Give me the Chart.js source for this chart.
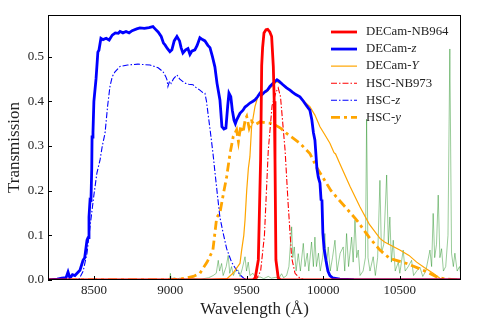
<!DOCTYPE html>
<html>
<head>
<meta charset="utf-8">
<script src="https://cdn.jsdelivr.net/npm/chart.js@4.4.1/dist/chart.umd.min.js"></script>
<style>
  body { margin: 0; background: #fff; }
  #wrap { width: 485px; height: 323px; position: relative; }
</style>
</head>
<body>
<div id="wrap"><canvas id="filters"></canvas></div>
<script>
// ---- data (wavelength in Angstrom, transmission) ----
const xTicks = [8500, 9000, 9500, 10000, 10500];
const yTicks = [0, 0.1, 0.2, 0.3, 0.4, 0.5];

const nb964Wave = [8200, 9540, 9555, 9575, 9590, 9597, 9603, 9612, 9625, 9636, 9650, 9662, 9673, 9679, 9684, 9690, 9705, 9720, 10900];
const nb964Trans = [0, 0, 0.005, 0.045, 0.27, 0.48, 0.52, 0.553, 0.56, 0.561, 0.555, 0.545, 0.478, 0.40, 0.27, 0.045, 0.005, 0, 0];

const decamZWave = [8200, 8260, 8290, 8318, 8331, 8342, 8350, 8360, 8376, 8390, 8409, 8429, 8440, 8455, 8462, 8468, 8475, 8481, 8486, 8488, 8494, 8500, 8514, 8520, 8526, 8533, 8546, 8560, 8580, 8600, 8620, 8640, 8660, 8671, 8690, 8710, 8730, 8750, 8780, 8801, 8830, 8860, 8886, 8900, 8920, 8940, 8955, 8965, 8980, 8997, 9010, 9025, 9043, 9060, 9070, 9082, 9100, 9115, 9128, 9140, 9160, 9175, 9193, 9210, 9226, 9245, 9259, 9275, 9291, 9305, 9324, 9337, 9350, 9363, 9375, 9383, 9395, 9405, 9416, 9425, 9433, 9455, 9475, 9488, 9500, 9520, 9540, 9553, 9570, 9586, 9600, 9618, 9635, 9651, 9665, 9684, 9697, 9710, 9736, 9760, 9782, 9800, 9820, 9847, 9870, 9890, 9912, 9925, 9935, 9945, 9958, 9967, 9978, 9985, 9991, 9997, 10005, 10017, 10030, 10043, 10060, 10108, 10200, 10900];
const decamZTrans = [0, 0.002, 0.004, 0.005, 0.018, 0.006, 0.007, 0.012, 0.01, 0.015, 0.022, 0.044, 0.05, 0.089, 0.095, 0.141, 0.18, 0.179, 0.25, 0.32, 0.33, 0.40, 0.45, 0.45, 0.51, 0.514, 0.541, 0.538, 0.541, 0.537, 0.548, 0.553, 0.552, 0.556, 0.553, 0.556, 0.553, 0.558, 0.562, 0.564, 0.563, 0.565, 0.567, 0.562, 0.555, 0.545, 0.53, 0.526, 0.518, 0.511, 0.515, 0.535, 0.545, 0.535, 0.52, 0.508, 0.515, 0.518, 0.505, 0.512, 0.515, 0.525, 0.542, 0.538, 0.535, 0.525, 0.52, 0.5, 0.477, 0.44, 0.403, 0.343, 0.338, 0.34, 0.39, 0.418, 0.41, 0.38, 0.358, 0.35, 0.358, 0.373, 0.38, 0.387, 0.39, 0.396, 0.40, 0.403, 0.41, 0.418, 0.415, 0.421, 0.425, 0.433, 0.438, 0.444, 0.448, 0.445, 0.437, 0.43, 0.425, 0.42, 0.415, 0.41, 0.40, 0.39, 0.38, 0.358, 0.33, 0.313, 0.25, 0.23, 0.217, 0.18, 0.179, 0.105, 0.07, 0.044, 0.02, 0.01, 0.005, 0.002, 0.001, 0];

const decamYWave = [8200, 9200, 9370, 9409, 9440, 9455, 9466, 9480, 9488, 9499, 9510, 9520, 9531, 9553, 9575, 9600, 9630, 9660, 9684, 9695, 9720, 9760, 9800, 9847, 9880, 9912, 9945, 9978, 10010, 10043, 10070, 10080, 10108, 10174, 10239, 10300, 10370, 10400, 10450, 10500, 10560, 10610, 10660, 10718, 10762, 10800, 10900];
const decamYTrans = [0, 0, 0.003, 0.015, 0.03, 0.037, 0.067, 0.1, 0.134, 0.2, 0.25, 0.276, 0.343, 0.388, 0.414, 0.418, 0.421, 0.432, 0.44, 0.444, 0.44, 0.429, 0.42, 0.41, 0.398, 0.388, 0.369, 0.343, 0.325, 0.306, 0.285, 0.282, 0.26, 0.21, 0.164, 0.125, 0.093, 0.085, 0.076, 0.067, 0.055, 0.04, 0.028, 0.015, 0.004, 0, 0];

const nb973Wave = [8200, 9560, 9590, 9615, 9640, 9665, 9690, 9705, 9720, 9735, 9750, 9770, 9793, 9815, 9847, 9880, 10900];
const nb973Trans = [0, 0, 0.02, 0.1, 0.29, 0.39, 0.42, 0.43, 0.41, 0.35, 0.29, 0.17, 0.05, 0.015, 0.004, 0, 0];

const hscZWave = [8200, 8400, 8430, 8455, 8475, 8500, 8520, 8540, 8555, 8573, 8590, 8605, 8620, 8638, 8671, 8720, 8788, 8830, 8867, 8920, 8952, 8970, 8978, 8984, 8995, 9005, 9020, 9043, 9060, 9082, 9100, 9120, 9148, 9170, 9193, 9210, 9226, 9236, 9246, 9262, 9278, 9295, 9311, 9324, 9345, 9368, 9400, 9433, 9460, 9480, 9520, 10900];
const hscZTrans = [0, 0, 0.02, 0.06, 0.12, 0.19, 0.24, 0.268, 0.30, 0.329, 0.39, 0.433, 0.455, 0.466, 0.478, 0.481, 0.483, 0.482, 0.481, 0.475, 0.466, 0.455, 0.448, 0.433, 0.445, 0.44, 0.45, 0.459, 0.45, 0.444, 0.44, 0.438, 0.437, 0.43, 0.425, 0.42, 0.418, 0.40, 0.373, 0.33, 0.285, 0.23, 0.18, 0.14, 0.105, 0.07, 0.04, 0.022, 0.01, 0.004, 0, 0];

const hscYWave = [8200, 9000, 9060, 9095, 9150, 9193, 9240, 9278, 9303, 9324, 9345, 9368, 9390, 9411, 9433, 9445, 9460, 9475, 9490, 9499, 9515, 9530, 9553, 9586, 9620, 9651, 9684, 9720, 9760, 9800, 9847, 9912, 9960, 10000, 10050, 10100, 10152, 10218, 10305, 10370, 10435, 10545, 10653, 10741, 10800, 10900];
const hscYTrans = [0, 0, 0.002, 0.004, 0.008, 0.015, 0.04, 0.067, 0.14, 0.15, 0.19, 0.231, 0.283, 0.321, 0.336, 0.31, 0.345, 0.33, 0.36, 0.366, 0.34, 0.355, 0.347, 0.354, 0.352, 0.351, 0.347, 0.34, 0.328, 0.318, 0.306, 0.283, 0.25, 0.228, 0.2, 0.18, 0.16, 0.134, 0.093, 0.067, 0.048, 0.037, 0.022, 0.007, 0.002, 0];

// sky emission spectrum (arbitrary scale), thin green line
const skyWave = [8200, 8995, 9000, 9005, 9030, 9040, 9060, 9100, 9150, 9200, 9250, 9280, 9300, 9313, 9322, 9335, 9345, 9365, 9378, 9388, 9400, 9412, 9425, 9444, 9455, 9470, 9488, 9498, 9509, 9520, 9540, 9560, 9586, 9610, 9640, 9660, 9690, 9710, 9727, 9740, 9760, 9775, 9793, 9800, 9810, 9822, 9836, 9850, 9869, 9880, 9895, 9905, 9923, 9935, 9945, 9955, 9968, 9980, 9995, 10010, 10020, 10032, 10045, 10060, 10076, 10090, 10110, 10130, 10140, 10152, 10165, 10185, 10195, 10207, 10218, 10228, 10240, 10260, 10275, 10283, 10292, 10305, 10326, 10340, 10355, 10370, 10380, 10395, 10414, 10425, 10435, 10445, 10457, 10470, 10490, 10500, 10522, 10535, 10555, 10577, 10590, 10610, 10631, 10650, 10670, 10697, 10708, 10718, 10728, 10740, 10751, 10762, 10773, 10785, 10800, 10815, 10827, 10838, 10850, 10860, 10875, 10890, 10900];
const skyFlux = [0, 0, 0.015, 0.003, 0.005, 0.002, 0.004, 0.002, 0.003, 0.002, 0.005, 0.01, 0.015, 0.044, 0.02, 0.037, 0.01, 0.03, 0.055, 0.015, 0.03, 0.01, 0.02, 0.022, 0.008, 0.025, 0.052, 0.02, 0.04, 0.01, 0.015, 0.004, 0.007, 0.003, 0.008, 0.004, 0.006, 0.004, 0.014, 0.005, 0.01, 0.03, 0.119, 0.05, 0.074, 0.02, 0.059, 0.02, 0.082, 0.03, 0.06, 0.02, 0.085, 0.03, 0.096, 0.03, 0.06, 0.02, 0.05, 0.104, 0.03, 0.074, 0.02, 0.05, 0.089, 0.02, 0.06, 0.074, 0.02, 0.104, 0.03, 0.096, 0.04, 0.134, 0.05, 0.067, 0.01, 0.02, 0.05, 0.36, 0.05, 0.02, 0.052, 0.01, 0.05, 0.223, 0.06, 0.08, 0.235, 0.08, 0.141, 0.04, 0.089, 0.02, 0.04, 0.015, 0.067, 0.02, 0.03, 0.044, 0.01, 0.02, 0.029, 0.008, 0.02, 0.067, 0.03, 0.149, 0.05, 0.08, 0.19, 0.05, 0.07, 0.02, 0.03, 0.1, 0.517, 0.06, 0.03, 0.06, 0.02, 0.03, 0.01];

// legend text: [plain part, italic part]
const legendLabels = [['DECam-NB964', ''], ['DECam-', 'z'], ['DECam-', 'Y'], ['HSC-NB973', ''], ['HSC-', 'z'], ['HSC-', 'y']];

function pts(wave, vals) {
  return wave.map((w, i) => ({ x: w, y: vals[i] }));
}

const serif = '"Liberation Serif", "DejaVu Serif", serif';
const dashThin = [6, 2, 1.5, 2];
const dashThick = [9, 4, 3, 4];

// first dataset is drawn on top in chart.js
const datasets = [
  { label: 'DECam-NB964', data: pts(nb964Wave, nb964Trans), borderColor: '#ff0000', borderWidth: 2.8 },
  { label: 'DECam-z', data: pts(decamZWave, decamZTrans), borderColor: '#0000ff', borderWidth: 2.8 },
  { label: 'DECam-Y', data: pts(decamYWave, decamYTrans), borderColor: '#ffa500', borderWidth: 1.2 },
  { label: 'HSC-NB973', data: pts(nb973Wave, nb973Trans), borderColor: '#ff0000', borderWidth: 1.1, borderDash: dashThin },
  { label: 'HSC-z', data: pts(hscZWave, hscZTrans), borderColor: '#0000ff', borderWidth: 1.1, borderDash: dashThin },
  { label: 'HSC-y', data: pts(hscYWave, hscYTrans), borderColor: '#ffa500', borderWidth: 2.8, borderDash: dashThick },
  { label: 'sky', data: pts(skyWave, skyFlux), borderColor: 'rgba(0,128,0,0.4)', borderWidth: 1 }
];

// box + inward ticks + legend, matplotlib style
const framePlugin = {
  id: 'frame',
  afterDatasetsDraw(chart) {
    const { ctx, chartArea: a, scales } = chart;
    ctx.save();
    ctx.strokeStyle = '#000';
    ctx.lineWidth = 1;
    ctx.strokeRect(a.left + 0.5, a.top + 0.5, a.right - a.left - 1, a.bottom - a.top - 1);
    ctx.beginPath();
    xTicks.forEach(v => {
      const px = Math.round(scales.x.getPixelForValue(v)) + 0.5;
      ctx.moveTo(px, a.bottom);
      ctx.lineTo(px, a.bottom - 4);
    });
    yTicks.forEach(v => {
      const py = Math.round(scales.y.getPixelForValue(v)) + 0.5;
      ctx.moveTo(a.left, py);
      ctx.lineTo(a.left + 4, py);
    });
    ctx.stroke();

    // legend
    const x0 = 331, x1 = 357, tx = 366;
    legendLabels.forEach((lab, i) => {
      const ds = chart.data.datasets[i];
      const y = 32 + i * 17.06;
      ctx.beginPath();
      ctx.strokeStyle = ds.borderColor;
      ctx.lineWidth = ds.borderWidth;
      ctx.setLineDash(ds.borderDash || []);
      ctx.moveTo(x0, y);
      ctx.lineTo(x1, y);
      ctx.stroke();
      ctx.setLineDash([]);
      ctx.fillStyle = '#222';
      ctx.textBaseline = 'middle';
      ctx.textAlign = 'left';
      ctx.font = '12.8px ' + serif;
      ctx.fillText(lab[0], tx, y);
      if (lab[1]) {
        const w = ctx.measureText(lab[0]).width;
        ctx.font = 'italic 12.8px ' + serif;
        ctx.fillText(lab[1], tx + w, y);
      }
    });
    ctx.restore();
  }
};

new Chart(document.getElementById('filters'), {
  type: 'line',
  data: { datasets: datasets },
  options: {
    responsive: true,
    maintainAspectRatio: false,
    animation: false,
    layout: { padding: { top: 15, right: 24, left: 0, bottom: 0 } },
    elements: { point: { radius: 0 }, line: { tension: 0, fill: false } },
    plugins: { legend: { display: false }, tooltip: { enabled: false } },
    scales: {
      x: {
        type: 'linear',
        min: 8200,
        max: 10900,
        afterBuildTicks: s => { s.ticks = xTicks.map(v => ({ value: v })); },
        afterFit: s => { s.height = 43; },
        grid: { display: false, drawTicks: false },
        border: { display: false },
        ticks: { color: '#222', font: { family: serif, size: 13 }, padding: 3, maxRotation: 0, callback: v => String(v) },
        title: { display: true, text: 'Wavelength (Å)', color: '#222', font: { family: serif, size: 17 }, padding: { top: 0, bottom: 3 } }
      },
      y: {
        min: 0,
        max: 0.593,
        afterBuildTicks: s => { s.ticks = yTicks.map(v => ({ value: v })); },
        afterFit: s => { s.width = 48; },
        grid: { display: false, drawTicks: false },
        border: { display: false },
        ticks: { color: '#222', font: { family: serif, size: 13 }, padding: 4, callback: v => v.toFixed(1) },
        title: { display: true, text: 'Transmission', color: '#222', font: { family: serif, size: 17 }, padding: { top: 4, bottom: 0 } }
      }
    }
  },
  plugins: [framePlugin]
});
</script>
</body>
</html>
